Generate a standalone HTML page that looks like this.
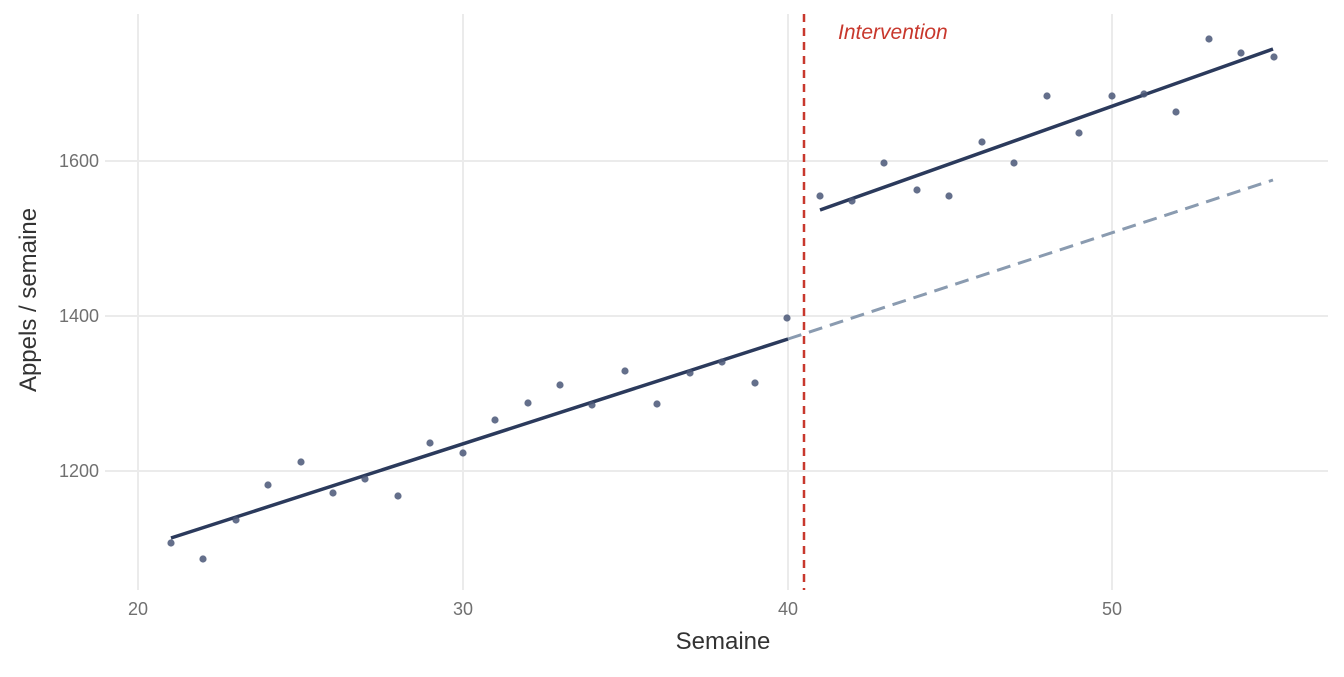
<!DOCTYPE html>
<html><head><meta charset="utf-8"><style>html,body{margin:0;padding:0;background:#fff}</style></head>
<body>
<svg width="1344" height="672" xmlns="http://www.w3.org/2000/svg" font-family="Liberation Sans, sans-serif">
<rect width="1344" height="672" fill="#fff"/>
<g stroke="#ebebeb" stroke-width="2">
<line x1="105" x2="1328" y1="471" y2="471"/><line x1="105" x2="1328" y1="316" y2="316"/><line x1="105" x2="1328" y1="161" y2="161"/>
<line x1="138" x2="138" y1="14" y2="590"/><line x1="463" x2="463" y1="14" y2="590"/><line x1="788" x2="788" y1="14" y2="590"/><line x1="1112" x2="1112" y1="14" y2="590"/>
</g>
<g fill="#4d4d4d" font-size="18" text-anchor="end" opacity="0.8">
<text x="99" y="477">1200</text><text x="99" y="322">1400</text><text x="99" y="167">1600</text>
</g>
<g fill="#4d4d4d" font-size="18" text-anchor="middle" opacity="0.8">
<text x="138" y="615">20</text><text x="463" y="615">30</text><text x="788" y="615">40</text><text x="1112" y="615">50</text>
</g>
<text x="723" y="649" font-size="24" text-anchor="middle" fill="#333">Semaine</text>
<text transform="translate(36,300) rotate(-90)" font-size="24" text-anchor="middle" fill="#333">Appels / semaine</text>
<line x1="788" y1="339" x2="1273" y2="180" stroke="#8a9bb0" stroke-width="3" stroke-dasharray="14,8"/>
<line x1="171" y1="538" x2="788" y2="339" stroke="#2b3a5c" stroke-width="3.5"/>
<line x1="820" y1="210" x2="1273" y2="49" stroke="#2b3a5c" stroke-width="3.5"/>
<line x1="804" y1="14" x2="804" y2="590" stroke="#c8382d" stroke-width="2.5" stroke-dasharray="8,6"/>
<text x="838" y="39" font-size="21" font-style="italic" fill="#c8382d">Intervention</text>
<g fill="#4a5777" opacity="0.85">
<circle cx="171" cy="543" r="3.6"/><circle cx="203" cy="559" r="3.6"/><circle cx="236" cy="520" r="3.6"/><circle cx="268" cy="485" r="3.6"/><circle cx="301" cy="462" r="3.6"/><circle cx="333" cy="493" r="3.6"/><circle cx="365" cy="479" r="3.6"/><circle cx="398" cy="496" r="3.6"/><circle cx="430" cy="443" r="3.6"/><circle cx="463" cy="453" r="3.6"/><circle cx="495" cy="420" r="3.6"/><circle cx="528" cy="403" r="3.6"/><circle cx="560" cy="385" r="3.6"/><circle cx="592" cy="405" r="3.6"/><circle cx="625" cy="371" r="3.6"/><circle cx="657" cy="404" r="3.6"/><circle cx="690" cy="373" r="3.6"/><circle cx="722" cy="362" r="3.6"/><circle cx="755" cy="383" r="3.6"/><circle cx="787" cy="318" r="3.6"/><circle cx="820" cy="196" r="3.6"/><circle cx="852" cy="201" r="3.6"/><circle cx="884" cy="163" r="3.6"/><circle cx="917" cy="190" r="3.6"/><circle cx="949" cy="196" r="3.6"/><circle cx="982" cy="142" r="3.6"/><circle cx="1014" cy="163" r="3.6"/><circle cx="1047" cy="96" r="3.6"/><circle cx="1079" cy="133" r="3.6"/><circle cx="1112" cy="96" r="3.6"/><circle cx="1144" cy="94" r="3.6"/><circle cx="1176" cy="112" r="3.6"/><circle cx="1209" cy="39" r="3.6"/><circle cx="1241" cy="53" r="3.6"/><circle cx="1274" cy="57" r="3.6"/>
</g>
</svg>
</body></html>
